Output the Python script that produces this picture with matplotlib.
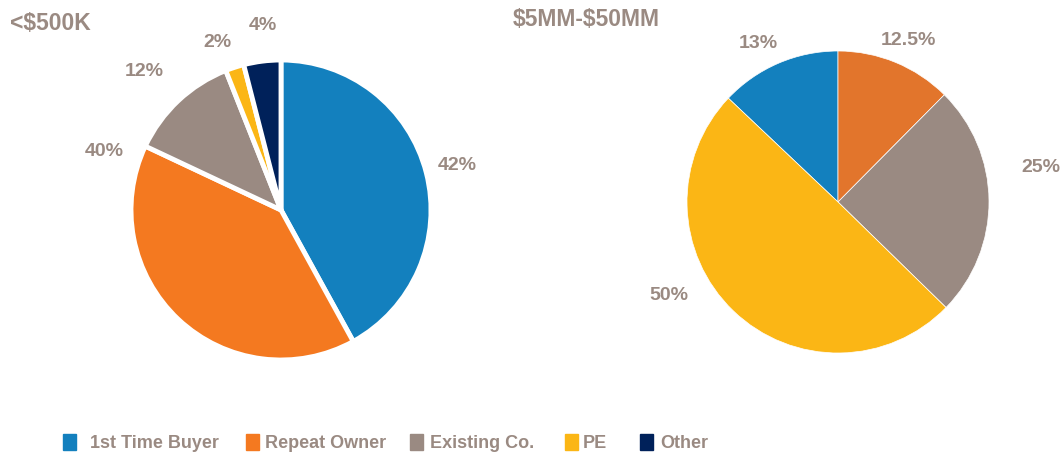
import matplotlib.pyplot as plt
from matplotlib.patches import Rectangle

plt.rcParams["text.parse_math"] = False

# Data
categories = ["1st Time Buyer", "Repeat Owner", "Existing Co.", "PE", "Other"]
small_deals = [42, 40, 12, 2, 4]
large_deals = [13, 12.5, 25, 50, 0]
small_labels = ["42%", "40%", "12%", "2%", "4%"]
large_labels = ["13%", "12.5%", "25%", "50%", ""]

colors_left = ["#1380BE", "#F47920", "#9A8A82", "#FBB615", "#00215A"]
colors_right = ["#1380BE", "#E2752C", "#9A8A82", "#FBB615", "#00215A"]
text_color = "#9A8A82"
font = ["Liberation Sans", "DejaVu Sans"]

W, H = 1063, 456

# label anchor points (pixels, y up)
small_label_pos = [(457, 291), (104, 304), (144, 385), (217, 414), (263, 431)]
large_label_pos = [(758, 413), (908, 416), (1041, 288), (669, 161), None]

fig = plt.figure(figsize=(W / 100, H / 100), dpi=100)
ax = fig.add_axes([0, 0, 1, 1])

# Left pie
ax.pie(small_deals, colors=colors_left, startangle=90, counterclock=False,
       center=(281, 245), radius=150, frame=True,
       wedgeprops=dict(edgecolor="white", linewidth=3.5))

# Right pie (skip empty slices)
keep = [i for i, v in enumerate(large_deals) if v > 0]
vals = [large_deals[i] for i in keep]
start = 90 + 360 * vals[0] / sum(vals)
ax.pie(vals, colors=[colors_right[i] for i in keep], startangle=start,
       counterclock=False, center=(838, 253), radius=151, frame=True,
       wedgeprops=dict(edgecolor="white", linewidth=0.5))

ax.set_xlim(0, W)
ax.set_ylim(0, H)
ax.set_aspect("equal")
ax.axis("off")

for lab, pos in zip(small_labels, small_label_pos):
    ax.text(pos[0], pos[1], lab, ha="center", va="center", fontsize=14,
            fontweight="bold", color=text_color, family=font)
for lab, pos in zip(large_labels, large_label_pos):
    if pos is None:
        continue
    ax.text(pos[0], pos[1], lab, ha="center", va="center", fontsize=14,
            fontweight="bold", color=text_color, family=font)

# Titles
ax.text(10, 433, "<$500K", ha="left", va="center", fontsize=16.5,
        fontweight="bold", color=text_color, family=font)
ax.text(513, 437, "$5MM-$50MM", ha="left", va="center", fontsize=16.5,
        fontweight="bold", color=text_color, family=font)

# Legend
box_x = [63, 246, 410, 565, 640]
text_x = [90, 265, 430, 583, 660]
for name, c, bx, tx in zip(categories, colors_left, box_x, text_x):
    ax.add_patch(Rectangle((bx, 5), 13, 16, color=c))
    ax.text(tx, 12, name, ha="left", va="center", fontsize=13,
            fontweight="bold", color=text_color, family=font)

fig.savefig("out.png", dpi=100)
